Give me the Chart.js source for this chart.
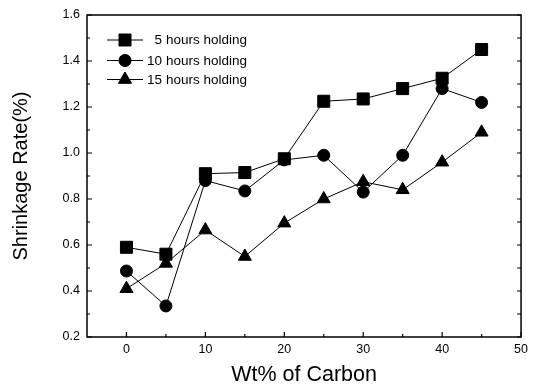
<!DOCTYPE html>
<html>
<head>
<meta charset="utf-8">
<script src="https://cdn.jsdelivr.net/npm/chart.js@4.4.1/dist/chart.umd.min.js"></script>
<style>
html,body{margin:0;padding:0;background:#fff;}
#wrap{width:533px;height:391px;position:relative;}
</style>
</head>
<body>
<div id="wrap"><canvas id="c" width="533" height="391"></canvas></div>
<script>
const carbon = [0, 5, 10, 15, 20, 25, 30, 35, 40, 45];
const hours5 = [0.59, 0.56, 0.91, 0.915, 0.975, 1.225, 1.235, 1.28, 1.325, 1.45];
const hours10 = [0.487, 0.335, 0.88, 0.835, 0.97, 0.99, 0.83, 0.99, 1.28, 1.22];
const hours15 = [0.41, 0.52, 0.665, 0.55, 0.695, 0.80, 0.875, 0.84, 0.96, 1.09];
const seriesLabels = ['5 hours holding', '10 hours holding', '15 hours holding'];
const xTicks = [0, 10, 20, 30, 40, 50];
const yTicks = [0.2, 0.4, 0.6, 0.8, 1.0, 1.2, 1.4, 1.6];

const toXY = arr => arr.map((v, i) => ({x: carbon[i], y: v}));
const FONT = '"Liberation Sans", Arial, sans-serif';

const frame = {
  id: 'frame',
  afterDatasetsDraw(chart) {
    const {ctx, chartArea: a, scales: {x, y}} = chart;
    ctx.save();
    ctx.strokeStyle = '#000';
    ctx.lineWidth = 1.5;
    ctx.strokeRect(a.left, a.top, a.right - a.left, a.bottom - a.top);
    ctx.lineWidth = 1.2;
    ctx.beginPath();
    for (let v = 0; v <= 50; v += 5) {
      const px = x.getPixelForValue(v);
      const len = v % 10 === 0 ? 5 : 3;
      ctx.moveTo(px, a.bottom); ctx.lineTo(px, a.bottom - len);
    }
    for (let k = 2; k <= 16; k++) {
      const py = y.getPixelForValue(k / 10);
      const len = k % 2 === 0 ? 5 : 3;
      ctx.moveTo(a.left, py); ctx.lineTo(a.left + len, py);
      ctx.moveTo(a.right, py); ctx.lineTo(a.right - 4, py);
    }
    ctx.stroke();
    ctx.restore();
  }
};

const legendPlugin = {
  id: 'customLegend',
  afterDatasetsDraw(chart) {
    const {ctx} = chart;
    const rows = [40, 60.5, 79.5];
    ctx.save();
    chart.data.datasets.forEach((ds, i) => {
      const yy = rows[i];
      ctx.strokeStyle = '#000';
      ctx.lineWidth = 1;
      ctx.beginPath();
      ctx.moveTo(107, yy); ctx.lineTo(143, yy);
      ctx.stroke();
      Chart.helpers.drawPoint(ctx, {pointStyle: ds.pointStyle, radius: ds.pointRadius, borderWidth: 1}, 125, yy);
      ctx.fillStyle = '#000';
      ctx.fill();
      ctx.font = '13.5px ' + FONT;
      ctx.textBaseline = 'middle';
      ctx.textAlign = 'right';
      const parts = ds.label.split(' ');
      ctx.fillText(parts[0], 162, yy + 0.5);
      ctx.textAlign = 'left';
      ctx.fillText(parts.slice(1).join(' '), 166, yy + 0.5);
    });
    ctx.restore();
  }
};

const mk = (label, data, style, r) => ({
  label, data: toXY(data),
  borderColor: '#000', backgroundColor: '#000', borderWidth: 1,
  pointStyle: style, pointRadius: r, pointHoverRadius: r,
  pointBackgroundColor: '#000', pointBorderColor: '#000',
  tension: 0, fill: false
});

new Chart(document.getElementById('c'), {
  type: 'line',
  data: {
    datasets: [
      mk(seriesLabels[0], hours5, 'rect', 8.5),
      mk(seriesLabels[1], hours10, 'circle', 6),
      mk(seriesLabels[2], hours15, 'triangle', 7.5)
    ]
  },
  options: {
    responsive: false,
    animation: false,
    devicePixelRatio: 1,
    layout: {padding: {left: 0, right: 9, top: 15, bottom: 0}},
    plugins: {legend: {display: false}, tooltip: {enabled: false}},
    scales: {
      x: {
        type: 'linear', min: -5, max: 50,
        afterBuildTicks: s => { s.ticks = xTicks.map(v => ({value: v})); },
        afterFit: s => { s.height = 54; },
        grid: {display: false, drawTicks: false},
        border: {display: false},
        ticks: {color: '#000', padding: 5, maxRotation: 0,
          font: {family: FONT, size: 12.5}},
        title: {display: true, text: 'Wt% of Carbon', color: '#000',
          font: {family: FONT, size: 21.5},
          padding: {top: 0, bottom: 3}}
      },
      y: {
        type: 'linear', min: 0.2, max: 1.6,
        afterBuildTicks: s => { s.ticks = yTicks.map(v => ({value: v})); },
        afterFit: s => { s.width = 87; },
        grid: {display: false, drawTicks: false},
        border: {display: false},
        ticks: {color: '#000', padding: 7,
          callback: v => v.toFixed(1),
          font: {family: FONT, size: 12.5}},
        title: {display: true, text: 'Shrinkage Rate(%)', color: '#000',
          font: {family: FONT, size: 20},
          padding: {top: 9, bottom: 0}}
      }
    }
  },
  plugins: [frame, legendPlugin]
});
</script>
</body>
</html>
